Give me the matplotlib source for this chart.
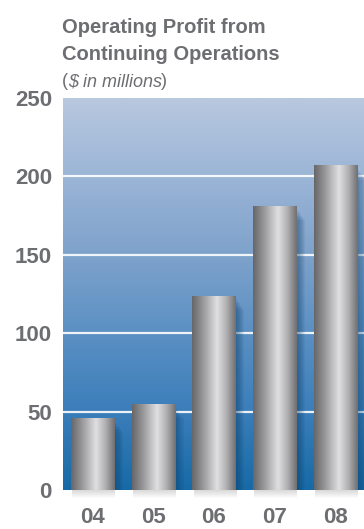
"""Operating profit from continuing operations, FY04-FY08, as a metallic bar chart."""

import matplotlib

matplotlib.use("Agg")
import matplotlib.pyplot as plt
import numpy as np
from matplotlib.colors import LinearSegmentedColormap
from matplotlib.patches import Rectangle

years = ["04", "05", "06", "07", "08"]
profit = [46, 55, 124, 181, 207]
y_ticks = [0, 50, 100, 150, 200, 250]

TEXT = "#6d6e71"
FONT = ["Liberation Sans", "DejaVu Sans"]

plt.rcParams["font.family"] = FONT

fig = plt.figure(figsize=(3.64, 5.29), dpi=100)
ax = fig.add_axes([63 / 364, 39 / 529, 1 - 63 / 364, 392 / 529])

x = np.arange(len(years))
XLIM = (-0.486, 4.47)

# vertical background gradient, pale steel blue at the top to deep blue at the base
bg = LinearSegmentedColormap.from_list(
    "bg", ["#176aa6", "#3b7eba", "#5b90c3", "#7ea2cb", "#9bb5d6", "#b8c8df"]
)
grad = np.linspace(0, 1, 256).reshape(-1, 1)
ax.imshow(grad, cmap=bg, origin="lower", aspect="auto",
          extent=[*XLIM, 0, 250], zorder=0)

for t in y_ticks[1:-1]:
    ax.axhline(t, color="white", linewidth=1.6, alpha=0.9, zorder=1)

width = 0.71
bars = ax.bar(x, profit, width=width, color="none", edgecolor="none", zorder=3)

# soft shadow to the right of each bar
for b in bars:
    for k in range(8):
        off = 0.02 + 0.018 * k
        ax.add_patch(Rectangle((b.get_x() + off, 0), b.get_width(), b.get_height() - 2 - k,
                               facecolor="#0b3d66", alpha=0.07, edgecolor="none", zorder=2))

# cylinder shading across each bar
metal = LinearSegmentedColormap.from_list(
    "metal", [(0.0, "#666668"), (0.25, "#98989a"), (0.57, "#e0e0e2"),
              (0.78, "#b2b2b4"), (1.0, "#6f6f71")]
)
hgrad = np.linspace(0, 1, 256).reshape(1, -1)
for b in bars:
    x0, h = b.get_x(), b.get_height()
    im = ax.imshow(hgrad, cmap=metal, aspect="auto",
                   extent=[x0, x0 + b.get_width(), 0, h], zorder=3)
    im.set_clip_path(b)

ax.set_xlim(*XLIM)
ax.set_ylim(0, 250)

for s in ax.spines.values():
    s.set_visible(False)

ax.set_yticks(y_ticks)
ax.set_yticklabels([str(t) for t in y_ticks])
ax.set_xticks(x)
ax.set_xticklabels(years)
ax.tick_params(axis="both", length=0, labelcolor=TEXT, labelsize=16)
ax.tick_params(axis="y", pad=8)
ax.tick_params(axis="x", pad=12)
for lab in ax.get_xticklabels() + ax.get_yticklabels():
    lab.set_fontweight("bold")

# blurred shadow cast below the baseline
px_per_unit = ax.get_position().width * 364 / (XLIM[1] - XLIM[0])
for b in bars:
    left_px = ax.transData.transform((b.get_x() + 0.02, 0))[0]
    for k in range(8):
        fig.patches.append(Rectangle(
            (left_px / 364, (39 - 1 - k) / 529),
            b.get_width() * px_per_unit / 364, 1 / 529,
            transform=fig.transFigure, facecolor="#5a5a5c",
            alpha=max(0.22 - 0.028 * k, 0.02), edgecolor="none"))

fig.text(62 / 364, 1 - 33 / 529, "Operating Profit from", color=TEXT,
         fontsize=14.5, fontweight="bold", va="baseline")
fig.text(62 / 364, 1 - 60 / 529, "Continuing Operations", color=TEXT,
         fontsize=14.5, fontweight="bold", va="baseline")

# third line mixes upright parentheses with an italic unit
renderer = fig.canvas.get_renderer()
xpos = 62 / 364
for piece, style in [("(", "normal"), ("$ in millions", "italic"), (")", "normal")]:
    t = fig.text(xpos, 1 - 86 / 529, piece, color=TEXT, fontsize=13,
                 fontstyle=style, va="baseline")
    xpos = t.get_window_extent(renderer).x1 / 364 - 0.001

fig.savefig("out.png", dpi=100)
